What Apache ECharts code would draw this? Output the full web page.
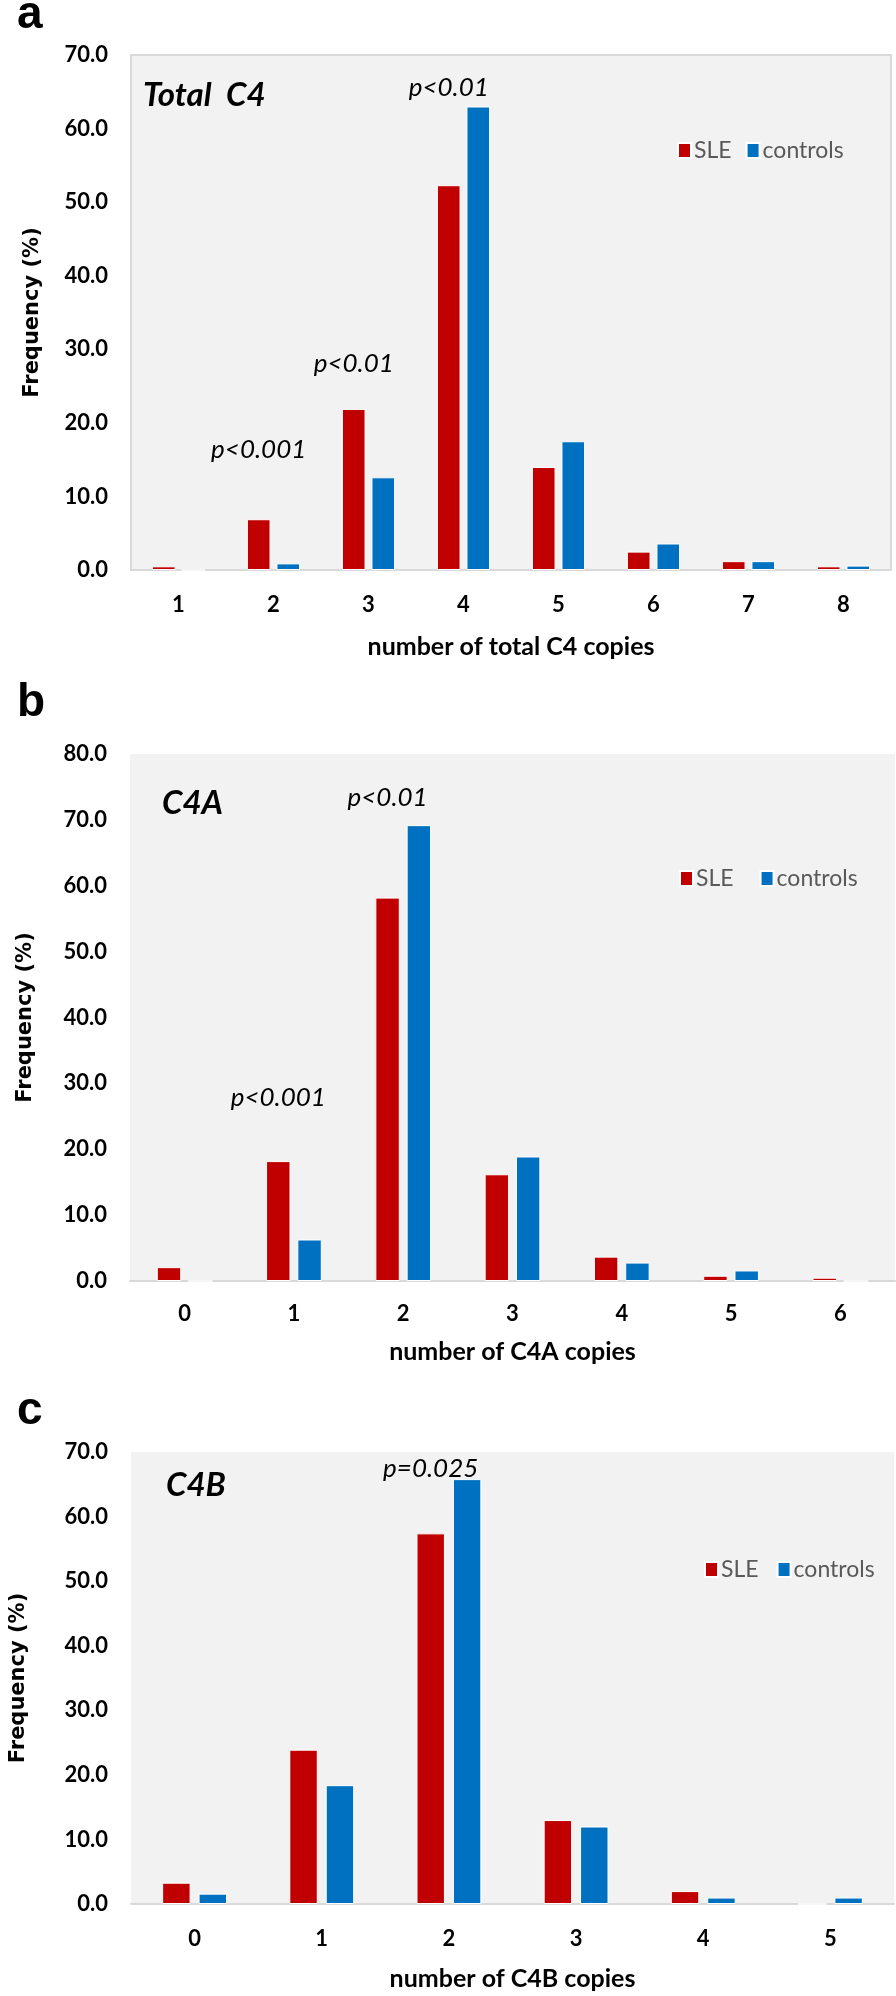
<!DOCTYPE html>
<html>
<head>
<meta charset="utf-8">
<script src="https://cdn.jsdelivr.net/npm/echarts@6/dist/echarts.min.js"></script>
<style>
  html, body { margin: 0; padding: 0; background: #fff; }
  #chart { width: 896px; height: 1996px; }
</style>
</head>
<body>
<div id="chart"></div>
<script>
// series names
var seriesNames = ['SLE', 'controls'];
var seriesColors = ['#C00000', '#0070C0'];

// a: total C4
var totalCopies = ['1', '2', '3', '4', '5', '6', '7', '8'];
var totalSLE = [0.5, 6.9, 21.9, 52.3, 14.0, 2.5, 1.2, 0.5];
var totalControls = [0, 0.9, 12.6, 63.0, 17.5, 3.6, 1.2, 0.6];
var totalMax = 70;
var totalP = [['2', 16.3, 'p<0.001'], ['3', 28.1, 'p<0.01'], ['4', 65.5, 'p<0.01']];

// b: C4A
var c4aCopies = ['0', '1', '2', '3', '4', '5', '6'];
var c4aSLE = [2.1, 18.2, 58.2, 16.2, 3.7, 0.8, 0.5];
var c4aControls = [0, 6.3, 69.2, 18.9, 2.8, 1.6, 0];
var c4aMax = 80;
var c4aP = [['1', 27.8, 'p<0.001'], ['2', 73.4, 'p<0.01']];

// c: C4B
var c4bCopies = ['0', '1', '2', '3', '4', '5'];
var c4bSLE = [3.3, 23.9, 57.4, 13.0, 2.0, 0];
var c4bControls = [1.6, 18.4, 65.8, 12.0, 1.0, 1.0];
var c4bMax = 70;
var c4bP = [['2', 67.5, 'p=0.025']];

var panelLetters = ['a', 'b', 'c'];
var panelNames = ['Total  C4', 'C4A', 'C4B'];
var xTitles = ['number of total C4 copies', 'number of C4A copies', 'number of C4B copies'];
var yTitle = 'Frequency (%)';

var FONT = 'Lato, "Open Sans", sans-serif';

var panels = [
  { cats: totalCopies, sle: totalSLE, ctl: totalControls, max: totalMax, p: totalP,
    grid: { left: 131, top: 55, width: 760, height: 515 }, border: true,
    catGap: '44%', barGap: '25%', xGap: 64, labelGap: 24, yNameGap: 88,
    legend: { left: 672, top: 134, itemGap: 14 }, name: { x: 143, y: 95 }, letter: { x: 17, y: -8 } },
  { cats: c4aCopies, sle: c4aSLE, ctl: c4aControls, max: c4aMax, p: c4aP,
    grid: { left: 130, top: 754, width: 765, height: 527 }, border: false,
    catGap: '49%', barGap: '28%', xGap: 58, labelGap: 22, yNameGap: 94,
    legend: { left: 674, top: 862, itemGap: 26 }, name: { x: 162, y: 803 }, letter: { x: 17, y: 680 } },
  { cats: c4bCopies, sle: c4bSLE, ctl: c4bControls, max: c4bMax, p: c4bP,
    grid: { left: 131, top: 1452, width: 763, height: 452 }, border: false,
    catGap: '49%', barGap: '28%', xGap: 62, labelGap: 24, yNameGap: 102,
    legend: { left: 699, top: 1553, itemGap: 18 }, name: { x: 166, y: 1485 }, letter: { x: 17, y: 1388 } }
];

var grids = [], xAxes = [], yAxes = [], series = [], legends = [], graphics = [];

panels.forEach(function (pn, i) {
  grids.push({
    left: pn.grid.left, top: pn.grid.top, width: pn.grid.width, height: pn.grid.height,
    show: true, backgroundColor: '#F2F2F2',
    borderColor: '#D9D9D9', borderWidth: pn.border ? 2 : 0
  });
  xAxes.push({
    type: 'category', gridIndex: i, data: pn.cats,
    name: xTitles[i], nameLocation: 'middle', nameGap: pn.xGap,
    nameTextStyle: { fontFamily: FONT, fontWeight: 'bold', fontSize: 25, color: '#000' },
    axisLine: { show: true, lineStyle: { color: '#D9D9D9', width: 2 } },
    axisTick: { show: false },
    axisLabel: { margin: pn.labelGap, fontFamily: FONT, fontWeight: 'bold', fontSize: 22, color: '#000' }
  });
  yAxes.push({
    type: 'value', gridIndex: i, min: 0, max: pn.max, interval: 10,
    name: yTitle, nameLocation: 'middle', nameGap: pn.yNameGap,
    nameTextStyle: { fontFamily: '"DejaVu Sans", Verdana, sans-serif', fontWeight: 'bold', fontSize: 21, color: '#000' },
    axisLine: { show: false }, axisTick: { show: false }, splitLine: { show: false },
    axisLabel: { margin: 23, fontFamily: FONT, fontWeight: 'bold', fontSize: 22, color: '#000',
      formatter: function (v) { return v.toFixed(1); } }
  });
  [pn.sle, pn.ctl].forEach(function (vals, k) {
    var s = {
      name: seriesNames[k], type: 'bar', xAxisIndex: i, yAxisIndex: i,
      data: vals, barGap: pn.barGap, barCategoryGap: pn.catGap,
      itemStyle: { color: seriesColors[k], borderColor: '#fff', borderWidth: 1 },
      emphasis: { disabled: true }
    };
    if (k === 0) {
      // p-value notes, placed in data coordinates
      s.markPoint = {
        symbol: 'rect', symbolSize: 1, itemStyle: { color: 'rgba(0,0,0,0)' },
        label: { show: true, position: 'inside', formatter: '{b}',
          fontFamily: FONT, fontStyle: 'italic', fontSize: 26, color: '#000' },
        data: pn.p.map(function (d) { return { name: d[2], coord: [d[0], d[1]] }; })
      };
    }
    series.push(s);
  });
  legends.push({
    data: seriesNames, left: pn.legend.left, top: pn.legend.top, orient: 'horizontal',
    icon: 'rect', itemWidth: 13, itemHeight: 15, itemGap: pn.legend.itemGap,
    textStyle: { fontFamily: FONT, fontSize: 23, color: '#595959', padding: [0, 0, 0, -2] }
  });
  graphics.push({
    type: 'text', x: pn.letter.x, y: pn.letter.y,
    style: { text: panelLetters[i], font: 'bold 46px "Liberation Sans", Arial, sans-serif', fill: '#000' }
  });
  graphics.push({
    type: 'text', x: pn.name.x, y: pn.name.y,
    style: { text: panelNames[i], font: 'italic bold 33px ' + FONT, fill: '#000', textVerticalAlign: 'middle' }
  });
});

var chart = echarts.init(document.getElementById('chart'));
chart.setOption({
  animation: false,
  grid: grids,
  xAxis: xAxes,
  yAxis: yAxes,
  legend: legends,
  series: series,
  graphic: graphics
});
</script>
</body>
</html>
